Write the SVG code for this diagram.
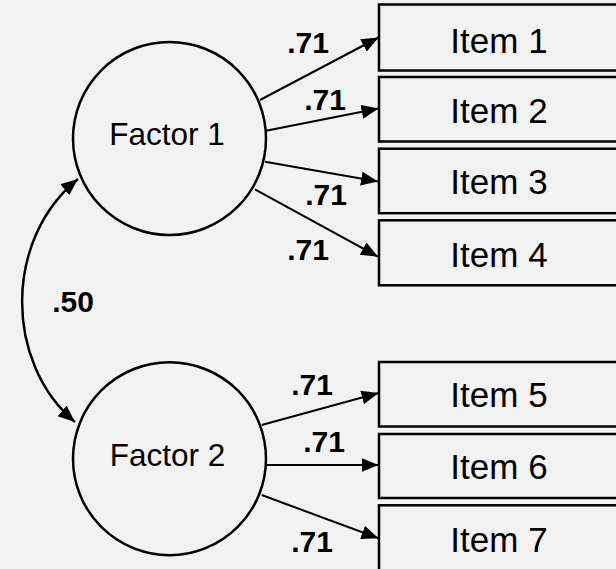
<svg xmlns="http://www.w3.org/2000/svg" width="616" height="569" viewBox="0 0 616 569">
  <style>
    .bg { fill: #f2f2f2; }
    .node { fill: #f2f2f2; stroke: #000; stroke-width: 2.5; }
    .item { font-family: "Liberation Sans", Arial, sans-serif; font-size: 35px; fill: #000; text-anchor: middle; }
    .fac { font-family: "Liberation Sans", Arial, sans-serif; font-size: 31.5px; fill: #000; text-anchor: middle; }
    .lbl { font-family: "Liberation Sans", Arial, sans-serif; font-size: 30px; font-weight: bold; fill: #000; text-anchor: middle; }
    .edge { fill: none; stroke: #000; stroke-width: 2; }
  </style>
  <defs>
    <marker id="ah" viewBox="0 0 17 14" refX="17" refY="7" markerWidth="17" markerHeight="14" markerUnits="userSpaceOnUse" orient="auto-start-reverse">
      <path d="M0,0 L17,7 L0,14 Z" fill="#000"/>
    </marker>
  </defs>
  <rect class="bg" x="0" y="0" width="616" height="569"/>

  <g id="factor1">
    <circle class="node" cx="169.5" cy="138.5" r="96.5"/>
    <text class="fac" x="167" y="145">Factor 1</text>
  </g>
  <g id="factor2">
    <circle class="node" cx="169.5" cy="458.7" r="96.5"/>
    <text class="fac" x="167.5" y="465.5">Factor 2</text>
  </g>

  <g id="item1">
    <rect class="node" x="379" y="4.5" width="250" height="66"/>
    <text class="item" x="499" y="52.5">Item 1</text>
  </g>
  <g id="item2">
    <rect class="node" x="379" y="77" width="250" height="64.5"/>
    <text class="item" x="499" y="122.7">Item 2</text>
  </g>
  <g id="item3">
    <rect class="node" x="379" y="148.7" width="250" height="64.5"/>
    <text class="item" x="499" y="194.3">Item 3</text>
  </g>
  <g id="item4">
    <rect class="node" x="379" y="220.3" width="250" height="65"/>
    <text class="item" x="499" y="266.7">Item 4</text>
  </g>
  <g id="item5">
    <rect class="node" x="379" y="362" width="250" height="64.5"/>
    <text class="item" x="499" y="407.3">Item 5</text>
  </g>
  <g id="item6">
    <rect class="node" x="379" y="434" width="250" height="64"/>
    <text class="item" x="499" y="479.3">Item 6</text>
  </g>
  <g id="item7">
    <rect class="node" x="379" y="505.3" width="250" height="70"/>
    <text class="item" x="499" y="551.7">Item 7</text>
  </g>

  <g id="connectors">
    <line class="edge" x1="260" y1="100" x2="378.5" y2="37.5" marker-end="url(#ah)"/>
    <line class="edge" x1="266" y1="130.7" x2="378.5" y2="108.5" marker-end="url(#ah)"/>
    <line class="edge" x1="265" y1="161.7" x2="378" y2="181.5" marker-end="url(#ah)"/>
    <line class="edge" x1="255" y1="189.3" x2="378" y2="256.7" marker-end="url(#ah)"/>
    <line class="edge" x1="261.7" y1="425" x2="378.5" y2="393" marker-end="url(#ah)"/>
    <line class="edge" x1="266" y1="465" x2="378.5" y2="465" marker-end="url(#ah)"/>
    <line class="edge" x1="261.7" y1="495" x2="378.5" y2="538.3" marker-end="url(#ah)"/>
    <path class="edge" style="stroke-width:2.5" d="M78,179 C4,239 4,362 75,422" marker-start="url(#ah)" marker-end="url(#ah)"/>
  </g>

  <g id="labels">
    <text class="lbl" x="308" y="53">.71</text>
    <text class="lbl" x="325" y="110">.71</text>
    <text class="lbl" x="326" y="205">.71</text>
    <text class="lbl" x="308" y="260">.71</text>
    <text class="lbl" x="312" y="395">.71</text>
    <text class="lbl" x="324" y="451.7">.71</text>
    <text class="lbl" x="312" y="551.7">.71</text>
    <text class="lbl" x="73" y="312">.50</text>
  </g>
</svg>
